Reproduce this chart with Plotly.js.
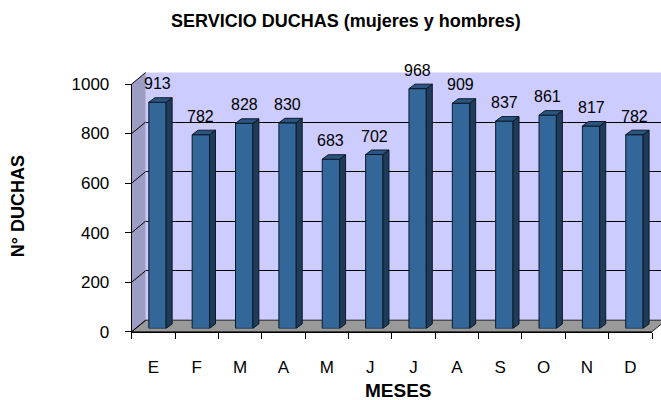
<!DOCTYPE html>
<html>
<head>
<meta charset="utf-8">
<script src="https://cdn.plot.ly/plotly-3.0.1.min.js"></script>
<style>html,body{margin:0;padding:0;background:#fff;}#chart{width:661px;height:400px;}</style>
</head>
<body>
<div id="chart"></div>
<script>
// ---- data ----
var months = ["E","F","M","A","M","J","J","A","S","O","N","D"];
var showers = [913,782,828,830,683,702,968,909,837,861,817,782];
var yTicks = [0,200,400,600,800,1000];
var chartTitle = "SERVICIO DUCHAS (mujeres y hombres)";
var xTitle = "MESES";
var yTitle = "N° DUCHAS";

// ---- geometry helpers (pixel layout of the 661x400 frame) ----
var W = 661, H = 400;
function px(x){ return x / W; }
function py(y){ return 1 - y / H; }
var FX0 = 131.7, FX1 = 652, FY0 = 331.7, FY1 = 84;   // front plane
var DX = 14, DY = -11.5;                              // depth offset
var BX = 4.1, BY = -3.3;                              // bar front plane offset
var idx = months.map(function(_, i){ return i; });
var bounds = [];
for (var k = 0; k <= months.length; k++) bounds.push(k - 0.5);

var font = "Arial, 'Liberation Sans', sans-serif";

var bars = {
  type: 'bar', x: idx, y: showers, xaxis: 'x3', yaxis: 'y3',
  width: 0.4,
  marker: {color: '#336699', line: {color: '#0d1a26', width: 1}},
  hoverinfo: 'skip'
};

// bar 3D faces in bar-axis units
var xu = months.length / ((FX1 + BX) - (FX0 + BX));
var yu = 1000 / ((FY0 + BY) - (FY1 + BY));
var ddx = 6 * xu, ddy = 4.5 * yu, hw = 0.2;

var shapes = [];
// back wall
shapes.push({type:'rect', xref:'paper', yref:'paper', layer:'below',
  x0: px(FX0 + DX), x1: 1, y0: py(FY0 + DY), y1: py(FY1 + DY),
  fillcolor:'#ccccff', line:{width:0}});
// left side wall
shapes.push({type:'path', xref:'paper', yref:'paper', layer:'below',
  path: 'M '+px(FX0)+','+py(FY0)+' L '+px(FX0)+','+py(FY1)+' L '+px(FX0+DX)+','+py(FY1+DY)+' L '+px(FX0+DX)+','+py(FY0+DY)+' Z',
  fillcolor:'#9c9cc4', line:{width:0}});
// floor
shapes.push({type:'path', xref:'paper', yref:'paper', layer:'below',
  path: 'M '+px(FX0)+','+py(FY0)+' L '+px(FX1)+','+py(FY0)+' L '+px(FX1+DX)+','+py(FY0+DY)+' L '+px(FX0+DX)+','+py(FY0+DY)+' Z',
  fillcolor:'#999999', line:{color:'#222', width:1}});
// side wall gridlines
yTicks.forEach(function(v){
  var yf = FY0 - (FY0 - FY1) * v / 1000;
  shapes.push({type:'line', xref:'paper', yref:'paper', layer:'below',
    x0: px(FX0), y0: py(yf), x1: px(FX0 + DX), y1: py(yf + DY),
    line:{color:'#000', width:1}});
});
// bar sides and tops
showers.forEach(function(v, i){
  shapes.push({type:'path', xref:'x3', yref:'y3', layer:'above',
    path: 'M '+(i+hw)+',0 L '+(i+hw)+','+v+' L '+(i+hw+ddx)+','+(v+ddy)+' L '+(i+hw+ddx)+','+ddy+' Z',
    fillcolor:'#1f3b5a', line:{color:'#0d1a26', width:1}});
  shapes.push({type:'path', xref:'x3', yref:'y3', layer:'above',
    path: 'M '+(i-hw)+','+v+' L '+(i+hw)+','+v+' L '+(i+hw+ddx)+','+(v+ddy)+' L '+(i-hw+ddx)+','+(v+ddy)+' Z',
    fillcolor:'#2b5580', line:{color:'#0d1a26', width:1}});
});

var annotations = showers.map(function(v, i){
  return {xref:'x3', yref:'y3', x:i, y:v, text:String(v), showarrow:false,
    yanchor:'bottom', yshift:8, font:{family:font, size:16, color:'#000'}};
});
annotations.push({xref:'paper', yref:'paper', x:px(398.3), y:py(390), text:'<b>'+xTitle+'</b>',
  showarrow:false, xanchor:'center', yanchor:'middle', font:{family:font, size:19, color:'#000'}});
annotations.push({xref:'paper', yref:'paper', x:px(17.5), y:py(206.7), text:'<b>'+yTitle+'</b>', textangle:-90,
  showarrow:false, xanchor:'center', yanchor:'middle', font:{family:font, size:18, color:'#000'}});

var layout = {
  width: W, height: H,
  margin: {l:0, r:0, t:0, b:0},
  paper_bgcolor: '#fff', plot_bgcolor: 'rgba(0,0,0,0)',
  showlegend: false,
  title: {text: '<b>'+chartTitle+'</b>', x: px(346), xref:'paper', xanchor:'center',
          y: py(21), yref:'paper', yanchor:'middle', font:{family:font, size:18, color:'#000'}},
  xaxis: {domain:[px(FX0), px(FX1)], range:[-0.5, months.length-0.5], anchor:'y',
          tickmode:'array', tickvals: idx, ticktext: months, ticks:'',
          minor:{tickmode:'array', tickvals: bounds, ticks:'outside', ticklen:6, tickcolor:'#000', tickwidth:1, showgrid:false},
          showline:true, linecolor:'#000', linewidth:1, showgrid:false, zeroline:false,
          ticklabelstandoff: 20, tickfont:{family:font, size:17, color:'#000'}, fixedrange:true},
  yaxis: {domain:[py(FY0), py(FY1)], range:[0,1000], anchor:'x',
          tickmode:'array', tickvals: yTicks, ticks:'outside', ticklen:6, tickcolor:'#000',
          showline:true, linecolor:'#000', linewidth:1, showgrid:false, zeroline:false,
          ticklabelstandoff: 12, tickfont:{family:font, size:17, color:'#000'}, fixedrange:true},
  xaxis2: {domain:[px(FX0+DX), 1], range:[0,1], anchor:'y2', showgrid:false, zeroline:false,
           showline:false, ticks:'', showticklabels:false, fixedrange:true},
  yaxis2: {domain:[py(FY0+DY), py(FY1+DY)], range:[0,1000], anchor:'x2',
           tickmode:'array', tickvals: yTicks, showgrid:true, gridcolor:'#000', gridwidth:1,
           zeroline:false, showline:false, ticks:'', showticklabels:false, fixedrange:true},
  xaxis3: {domain:[px(FX0+BX), px(FX1+BX)], range:[-0.5, months.length-0.5], anchor:'y3', visible:false, fixedrange:true},
  yaxis3: {domain:[py(FY0+BY), py(FY1+BY)], range:[0,1000], anchor:'x3', visible:false, fixedrange:true},
  shapes: shapes,
  annotations: annotations
};

// invisible trace so the x2/y2 back-wall grid is drawn
var backAnchor = {type:'scatter', x:[0], y:[0], xaxis:'x2', yaxis:'y2', mode:'markers',
  marker:{opacity:0}, hoverinfo:'skip'};
var frontAnchor = {type:'scatter', x:[0], y:[0], xaxis:'x', yaxis:'y', mode:'markers',
  marker:{opacity:0}, hoverinfo:'skip'};

Plotly.newPlot('chart', [frontAnchor, backAnchor, bars], layout, {staticPlot:true, displayModeBar:false});
</script>
</body>
</html>
